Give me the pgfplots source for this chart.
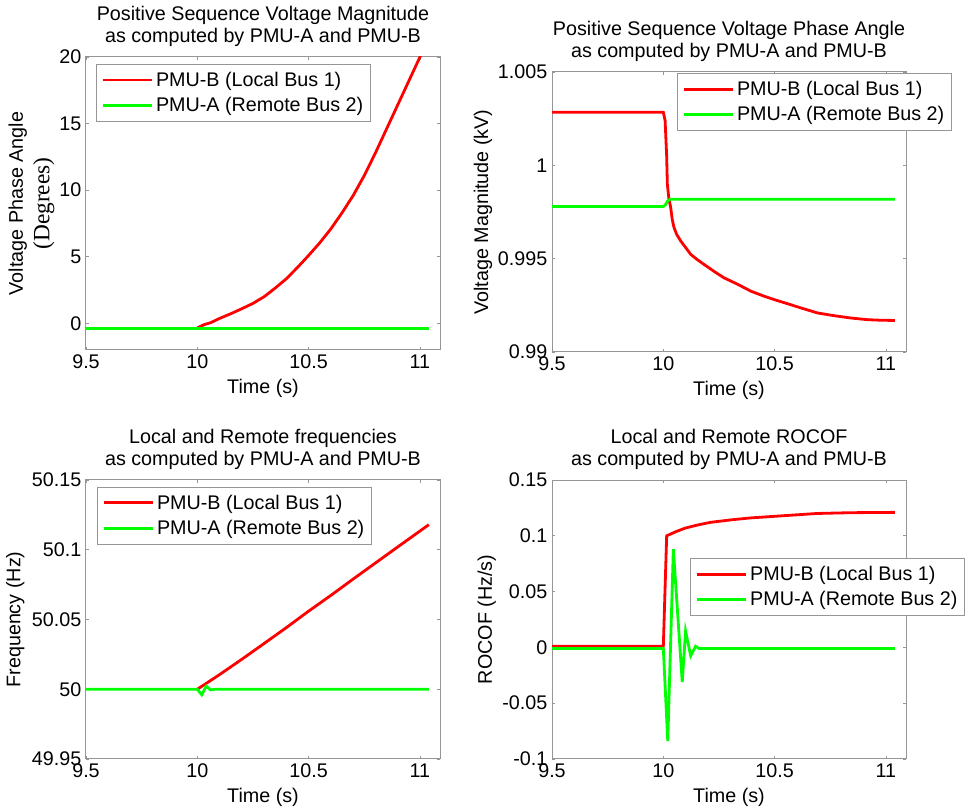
\documentclass[border=0pt]{standalone}
\usepackage{fontspec}
\setmainfont{Liberation Sans}
\newfontfamily\serifaxis{Liberation Serif}
\usepackage{pgfplots}
\pgfplotsset{compat=1.18}

\definecolor{axgray}{RGB}{150,150,150}
\definecolor{mred}{RGB}{255,0,0}
\definecolor{mgreen}{RGB}{0,255,0}

\newcommand{\fs}{\fontsize{14.8}{16.5}\selectfont}

\pgfplotsset{
  matlab/.style={
    scale only axis,
    anchor=south west,
    width=265.5pt,
    axis line style={draw=axgray, line width=0.75pt},
    tick style={draw=axgray, line width=0.6pt},
    tick align=inside,
    major tick length=2.5pt,
    xmin=9.5, xmax=11.09,
    xtick={9.5,10,10.5,11},
    xticklabels={9.5,10,10.5,11},
    scaled ticks=false,
    tick label style={font=\fs, text=black},
    xlabel={Time (s)},
    xlabel style={font=\fs, at={(axis description cs:0.5,0)}, anchor=center, yshift=-29pt},
    ylabel style={font=\fs, anchor=center, align=center},
    title style={font=\fs, align=center, at={(axis description cs:0.5,1)}, anchor=south, yshift=-2pt},
    legend style={draw=axgray, fill=white, font=\fs, cells={anchor=west},
      inner xsep=3.5pt, inner ysep=3.5pt, row sep=3pt, line width=0.75pt},
    legend image code/.code={\draw[#1, line width=2.2pt] (4pt,0pt) -- (41pt,0pt);},
    every axis plot/.append style={line width=2.1pt, no markers},
    clip=true,
  }
}

\begin{document}
\begin{tikzpicture}
\useasboundingbox (0,0) rectangle (726pt,608.25pt);

% top left: phase angle
\begin{axis}[matlab,
  at={(64.5pt,345.75pt)}, height=219.75pt,
  ymin=-2, ymax=20,
  ytick={0,5,10,15,20}, yticklabels={0,5,10,15,20},
  title={Positive Sequence Voltage Magnitude\\as computed by PMU-A and PMU-B},
  ylabel={Voltage Phase Angle\\{\serifaxis\fontsize{17.5}{20}\selectfont (Degrees)}},
  ylabel style={at={(axis description cs:-0.154,0.5)}, align=center, font=\fontsize{14.8}{20}\selectfont},
  legend style={at={(axis description cs:0.028,0.976)}, anchor=north west},
]
\addplot[mred] coordinates {
(10.00,-0.35) (10.03,-0.1) (10.06,0.05) (10.10,0.37) (10.15,0.72) (10.20,1.1)
(10.25,1.5) (10.30,2.0) (10.35,2.65) (10.40,3.35) (10.45,4.2) (10.50,5.1)
(10.55,6.05) (10.60,7.1) (10.65,8.3) (10.70,9.6) (10.75,11.1) (10.80,12.8)
(10.85,14.6) (10.90,16.4) (10.95,18.2) (11.00,20.0) (11.04,21.5)
};
\addplot[mgreen] coordinates {(9.5,-0.37) (11.04,-0.37)};
\legend{PMU-B (Local Bus 1),PMU-A (Remote Bus 2)}
\end{axis}

% top right: magnitude
\begin{axis}[matlab,
  at={(414pt,344.25pt)}, height=210pt,
  ymin=0.99, ymax=1.005,
  ytick={0.99,0.995,1,1.005}, yticklabels={0.99,0.995,1,1.005},
  title={Positive Sequence Voltage Phase Angle\\as computed by PMU-A and PMU-B},
  ylabel={Voltage Magnitude (kV)},
  ylabel style={at={(axis description cs:-0.195,0.5)}},
  legend style={at={(axis description cs:0.353,0.996)}, anchor=north west},
]
\addplot[mred] coordinates {
(9.5,1.00284) (10.00,1.00284) (10.008,1.0024) (10.015,1.0005) (10.018,0.9990)
(10.025,0.9982) (10.033,0.99775) (10.040,0.9971) (10.048,0.99667) (10.060,0.99630)
(10.078,0.99595) (10.10,0.99560) (10.123,0.99523) (10.15,0.99497) (10.183,0.99469)
(10.23,0.99430) (10.273,0.99397) (10.33,0.99365) (10.393,0.99326) (10.45,0.99300)
(10.50,0.99280) (10.56,0.99258) (10.618,0.99236) (10.693,0.99209) (10.77,0.99194)
(10.843,0.99182) (10.918,0.99173) (10.98,0.99170) (11.04,0.99169)
};
\addplot[mgreen] coordinates {
(9.5,0.99779) (10.00,0.99779) (10.01,0.99790) (10.02,0.99810) (10.03,0.99818) (11.04,0.99818)
};
\legend{PMU-B (Local Bus 1),PMU-A (Remote Bus 2)}
\end{axis}

% bottom left: frequency
\begin{axis}[matlab,
  at={(64.5pt,39pt)}, height=209.25pt,
  ymin=49.95, ymax=50.15,
  ytick={49.95,50,50.05,50.1,50.15}, yticklabels={49.95,50,50.05,50.1,50.15},
  title={Local and Remote frequencies\\as computed by PMU-A and PMU-B},
  ylabel={Frequency (Hz)},
  ylabel style={at={(axis description cs:-0.2,0.5)}},
  legend style={at={(axis description cs:0.031,0.975)}, anchor=north west},
]
\addplot[mred] coordinates {
(10.00,50.000) (10.10,50.0105) (10.20,50.0215) (10.30,50.0328) (10.40,50.0442)
(10.50,50.0560) (10.60,50.0673) (10.70,50.0790) (10.80,50.0905) (10.90,50.1020)
(11.04,50.1180)
};
\addplot[mgreen] coordinates {
(9.5,50.0) (10.00,50.0) (10.02,49.9960) (10.04,50.0022) (10.06,49.9995) (10.08,50.0) (11.04,50.0)
};
\legend{PMU-B (Local Bus 1),PMU-A (Remote Bus 2)}
\end{axis}

% bottom right: ROCOF
\begin{axis}[matlab,
  at={(414pt,39pt)}, height=209.25pt,
  ymin=-0.1, ymax=0.15,
  ytick={-0.1,-0.05,0,0.05,0.1,0.15}, yticklabels={-0.1,-0.05,0,0.05,0.1,0.15},
  title={Local and Remote ROCOF\\as computed by PMU-A and PMU-B},
  ylabel={ROCOF (Hz/s)},
  ylabel style={at={(axis description cs:-0.184,0.5)}},
  legend style={at={(axis description cs:0.39,0.72)}, anchor=north west},
]
\addplot[mred] coordinates {
(9.5,0.001) (10.00,0.001) (10.015,0.100) (10.06,0.104) (10.10,0.107) (10.15,0.1095)
(10.21,0.112) (10.30,0.1142) (10.39,0.116) (10.54,0.118) (10.69,0.120) (10.84,0.1207)
(11.04,0.121)
};
\addplot[mgreen] coordinates {
(9.5,-0.001) (10.00,-0.001) (10.02,-0.084) (10.045,0.088) (10.085,-0.031) (10.10,0.0145)
(10.123,-0.0075) (10.145,0.001) (10.16,-0.001) (11.04,-0.001)
};
\legend{PMU-B (Local Bus 1),PMU-A (Remote Bus 2)}
\end{axis}
\end{tikzpicture}
\end{document}
